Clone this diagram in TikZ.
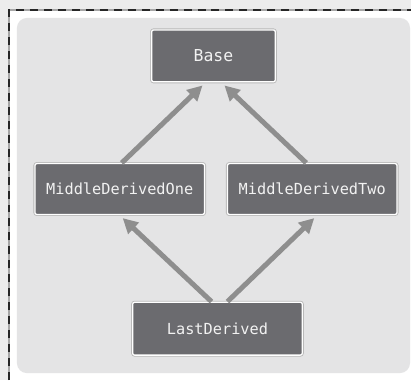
\documentclass[tikz,border=0pt]{standalone}
\usepackage{fontspec}
\setmonofont{DejaVu Sans Mono}
\usetikzlibrary{arrows.meta}
\definecolor{boxgray}{HTML}{6B6B6F}
\definecolor{panelgray}{HTML}{E4E4E5}
\definecolor{pagegray}{HTML}{ECECEC}
\definecolor{arrowgray}{HTML}{8E8E8E}
\definecolor{textwhite}{HTML}{F2F2F2}

\begin{document}
\begin{tikzpicture}[x=1pt, y=-1pt,
    classbox/.style={fill=boxgray, draw=white, line width=1.3pt, rounded corners=2pt,
      preaction={draw=black!28, line width=3pt},
      text=textwhite, font=\ttfamily\fontsize{15.3}{17}\selectfont,
      minimum width=170pt, minimum height=51pt, inner sep=0pt},
    inherits/.style={draw=arrowgray, line width=5pt, -{Triangle[length=15pt,width=15pt]}}]

    % page and frame
    \fill[pagegray] (0,0) rectangle (412,381);
    \fill[white] (9,10) rectangle (412,381);
    \draw[black!35, line width=2pt] (9,381) -- (9,10) -- (412,10);
    \draw[black!85, line width=2pt, dash pattern=on 8pt off 6pt] (9,381) -- (9,10) -- (412,10);
    \fill[panelgray, rounded corners=10pt] (17,18) rectangle (411,374);
    \useasboundingbox (0,0) rectangle (412,381);

    % Classes
    \node[classbox, minimum width=124pt, minimum height=52pt,
      font=\ttfamily\fontsize{16.5}{18}\selectfont] (base) at (214,56) {Base};
    \node[classbox] (mdone) at (120,189.5) {MiddleDerivedOne};
    \node[classbox] (mdtwo) at (313,189.5) {MiddleDerivedTwo};
    \node[classbox, minimum height=53pt] (last) at (218,329.5) {LastDerived};

    % Inheritance
    \draw[inherits] ([xshift=2pt]mdone.north) -- ([xshift=-11pt,yshift=-3pt]base.south);
    \draw[inherits] ([xshift=-6pt]mdtwo.north) -- ([xshift=11pt,yshift=-3pt]base.south);
    \draw[inherits] ([xshift=-6pt]last.north) -- ([xshift=3pt,yshift=-3pt]mdone.south);
    \draw[inherits] ([xshift=10pt]last.north) -- ([xshift=2pt,yshift=-3pt]mdtwo.south);

  \end{tikzpicture}
\end{document}
